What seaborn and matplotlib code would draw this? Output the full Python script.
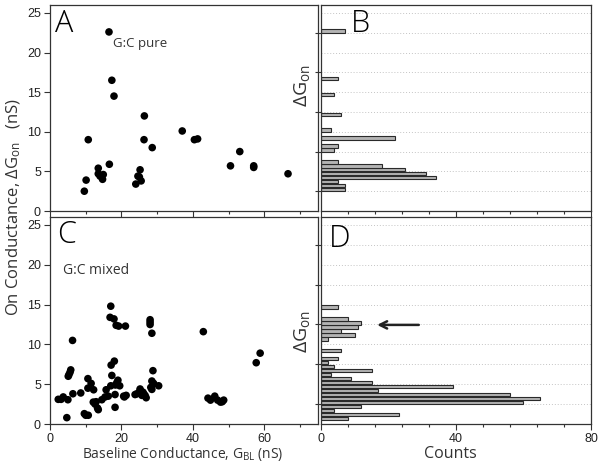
import matplotlib
matplotlib.use("Agg")
import matplotlib.pyplot as plt
from matplotlib.ticker import MultipleLocator, NullFormatter
import seaborn as sns

# panel A: G:C pure, one point per molecule
pure_gbl = [16.5, 17.3, 17.9, 10.7, 26.4, 26.3, 28.6, 37.0, 40.4, 41.3, 53.1, 50.5, 57.0, 57.0,
            66.6, 16.6, 13.5, 13.5, 14.0, 14.9, 14.7, 10.1, 9.6, 25.2, 24.6, 25.0, 25.5, 24.0]
pure_dg = [22.6, 16.5, 14.5, 9.0, 12.0, 9.0, 8.0, 10.1, 9.0, 9.1, 7.5, 5.7, 5.7, 5.5,
           4.7, 5.9, 5.4, 4.7, 4.4, 4.6, 4.0, 3.9, 2.5, 5.2, 4.4, 4.3, 3.8, 3.4]

# panel C: G:C mixed
mixed_gbl = [17.0, 16.8, 17.9, 18.5, 19.2, 21.1, 28.0, 28.0, 28.0, 28.5, 42.9, 6.3,
             57.7, 58.8, 18.0, 17.1, 5.8, 5.6, 5.3, 5.1, 17.3, 28.8,
             10.6, 11.5, 10.6, 12.2, 15.7, 17.0, 18.3, 19.0, 19.5, 18.7, 18.2, 18.2,
             2.3, 3.7, 3.1, 5.0, 6.4, 8.6, 4.7, 9.6, 10.0, 10.7, 12.1, 12.6, 13.3, 13.5, 12.9,
             14.5, 15.4, 16.3, 20.6, 21.3, 20.8, 23.8, 25.2, 26.2, 24.3, 25.2, 26.0, 26.6, 26.9, 25.7,
             28.5, 29.0, 28.2, 30.4, 28.5, 44.2, 44.9, 46.1, 46.9, 47.7, 48.6, 48.2]
mixed_dg = [14.8, 13.4, 13.2, 12.4, 12.3, 12.3, 13.1, 12.8, 12.5, 11.4, 11.6, 10.5,
            7.7, 8.9, 7.9, 7.4, 6.8, 6.5, 6.2, 6.0, 6.1, 6.7,
            5.7, 5.1, 4.5, 4.3, 4.3, 4.8, 4.9, 5.5, 4.8, 5.2, 3.7, 2.1,
            3.1, 3.4, 3.1, 3.05, 3.8, 3.9, 0.8, 1.3, 1.1, 1.1, 2.75, 2.5, 2.0, 1.8, 2.8,
            3.05, 3.4, 3.5, 3.5, 3.6, 3.4, 3.7, 4.4, 3.8, 3.8, 4.2, 4.0, 3.6, 3.3, 3.6,
            5.4, 5.1, 4.6, 4.8, 4.35, 3.25, 3.0, 3.5, 3.0, 2.75, 3.0, 2.8]

# panel B / D histograms (bin centre in nS, counts)
pure_bins = [22.7, 16.7, 14.7, 12.2, 10.2, 9.2, 8.2, 7.7, 6.2, 5.7, 5.2, 4.7, 4.2, 3.7, 3.2, 2.7]
pure_counts = [7, 5, 4, 6, 3, 22, 5, 4, 5, 18, 25, 31, 34, 5, 7, 7]
mixed_bins = [14.7, 13.2, 12.7, 12.2, 11.7, 11.2, 10.7, 9.2, 8.2, 7.7, 7.2, 6.7,
              6.2, 5.7, 5.2, 4.7, 4.2, 3.7, 3.2, 2.7, 2.2, 1.7, 1.2, 0.7]
mixed_counts = [5, 8, 12, 11, 6, 10, 2, 6, 5, 2, 4, 15, 3, 9, 15, 39, 17, 56, 65, 60, 12, 4, 23, 8]

sns.set_style("ticks")
plt.rcParams["font.family"] = ["Liberation Sans", "DejaVu Sans"]
plt.rcParams["mathtext.fontset"] = "custom"
plt.rcParams["mathtext.rm"] = "Open Sans"
plt.rcParams["mathtext.it"] = "Open Sans:italic"

dark = "#333333"
lab = dict(family=["Open Sans", "DejaVu Sans"], color="#333333")

fig = plt.figure(figsize=(6.02, 4.66), dpi=100)
axA = fig.add_axes([0.0831, 0.5472, 0.4452, 0.4421])
axB = fig.add_axes([0.5332, 0.5472, 0.4485, 0.4421])
axC = fig.add_axes([0.0831, 0.0901, 0.4452, 0.4442])
axD = fig.add_axes([0.5332, 0.0901, 0.4485, 0.4442])

sns.scatterplot(x=pure_gbl, y=pure_dg, ax=axA, color="black", s=30, edgecolor="none")
sns.scatterplot(x=mixed_gbl, y=mixed_dg, ax=axC, color="black", s=30, edgecolor="none")

for ax, bins, counts in [(axB, pure_bins, pure_counts), (axD, mixed_bins, mixed_counts)]:
    sns.barplot(x=counts, y=bins, orient="h", native_scale=True, width=0.85, ax=ax,
                color="#b4b4b4", edgecolor="#2a2a2a", linewidth=0.8, saturation=1,
                errorbar=None, zorder=2)


def frame(ax):
    for s in ax.spines.values():
        s.set_visible(True)
        s.set_color(dark)
        s.set_linewidth(0.9)
    ax.tick_params(which="both", direction="out", color=dark, labelcolor="#222222",
                   labelsize=9, width=0.8, pad=2.5)
    ax.tick_params(which="major", length=4)
    ax.tick_params(which="minor", length=2.5)
    ax.set_xlabel("")
    ax.set_ylabel("")


for ax in (axA, axC):
    ax.set_xlim(0, 75)
    ax.set_ylim(0, 26)
    ax.xaxis.set_major_locator(MultipleLocator(20))
    ax.xaxis.set_minor_locator(MultipleLocator(10))
    ax.yaxis.set_major_locator(MultipleLocator(5))
    frame(ax)

for ax in (axB, axD):
    ax.set_xlim(0, 80)
    ax.set_ylim(0, 26)
    ax.xaxis.set_major_locator(MultipleLocator(40))
    ax.xaxis.set_minor_locator(MultipleLocator(8))
    ax.set_yticks([2.5, 7.5, 12.5, 17.5, 22.5])
    ax.set_yticks([5, 10, 15, 20, 25], minor=True)
    ax.yaxis.set_major_formatter(NullFormatter())
    frame(ax)
    ax.tick_params(axis="y", which="minor", length=0)
    ax.grid(axis="y", which="both", linestyle=(0, (1, 2)), color="#c4c4c4", linewidth=0.7)
    ax.set_axisbelow(True)

axA.xaxis.set_major_formatter(NullFormatter())
axB.xaxis.set_major_formatter(NullFormatter())

# panel letters and notes
for ax, letter, x, y in [(axA, "A", 0.02, 0.985), (axB, "B", 0.11, 0.985),
                         (axC, "C", 0.025, 0.99), (axD, "D", 0.03, 0.97)]:
    ax.text(x, y, letter, transform=ax.transAxes, fontsize=22, va="top", ha="left",
            color="black", family=["Open Sans", "DejaVu Sans"], fontweight="light")

axA.text(25.2, 21.1, "G:C pure", fontsize=9.5, ha="center", va="center", **lab)
axC.text(3.6, 19.3, "G:C mixed", fontsize=10, ha="left", va="center", **lab)

axD.annotate("", xy=(15.8, 12.45), xytext=(29.8, 12.45),
             arrowprops=dict(arrowstyle="->", lw=1.8, color="#222222", mutation_scale=13))

# axis titles
fig.text(302 / 602, 1 - 85 / 466, "ΔG$_{\\rm on}$", rotation=90, ha="center", va="center",
         fontsize=14, **lab)
fig.text(302 / 602, 1 - 331 / 466, "ΔG$_{\\rm on}$", rotation=90, ha="center", va="center",
         fontsize=14, **lab)
fig.text(14 / 602, 1 - 207 / 466, "On Conductance, ΔG$_{\\rm on}$   (nS)", rotation=90,
         ha="center", va="center", fontsize=12, **lab)
fig.text(183 / 602, 1 - 454 / 466, "Baseline Conductance, G$_{\\rm BL}$ (nS)", ha="center",
         va="center", fontsize=10, **lab)
fig.text(450 / 602, 1 - 454 / 466, "Counts", ha="center", va="center", fontsize=11.5, **lab)

fig.savefig("out.png", dpi=100)
